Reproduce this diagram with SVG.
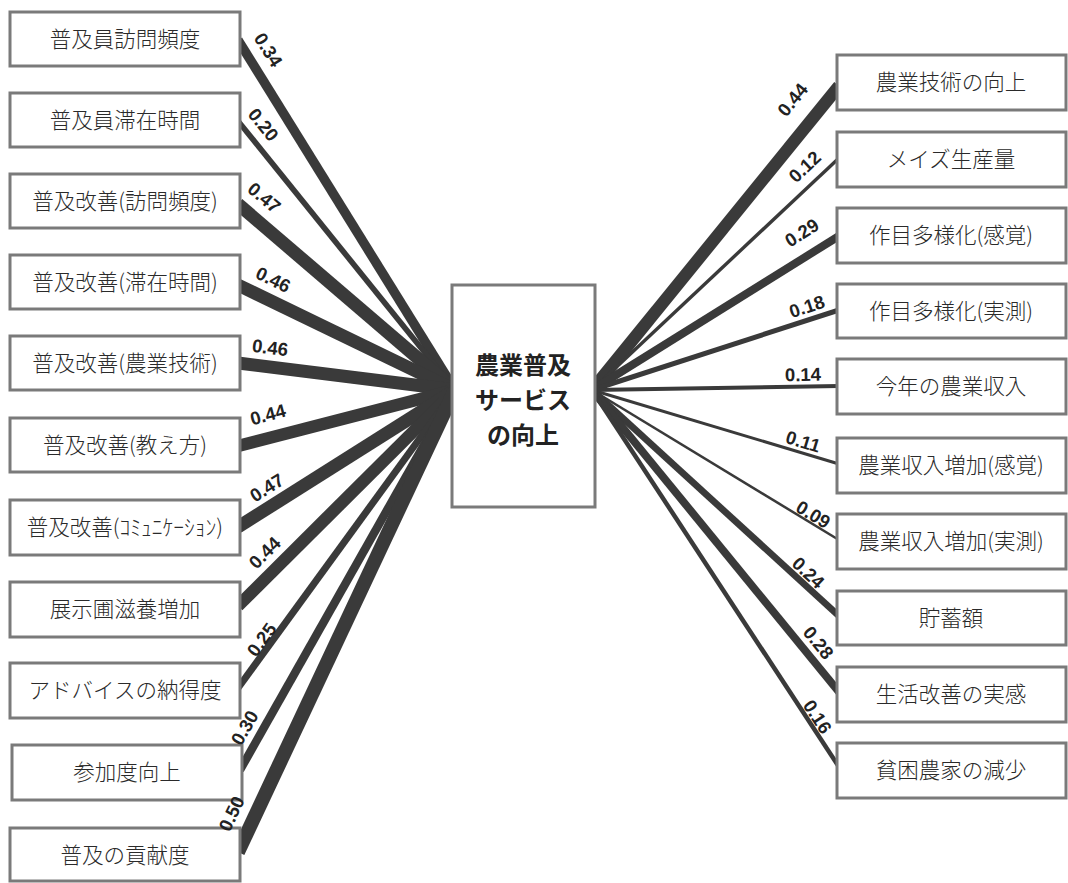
<svg xmlns="http://www.w3.org/2000/svg" width="1068" height="883" viewBox="0 0 1068 883">
<style>
.box{fill:#fff;stroke:#7a7a7a;stroke-width:3}
.t{font-family:"Noto Sans CJK JP","Noto Sans",sans-serif;font-size:21.5px;font-weight:300;fill:#2a2a2a;text-anchor:middle}
.c{font-family:"Noto Sans CJK JP","Noto Sans",sans-serif;font-size:24px;font-weight:bold;fill:#222;text-anchor:middle}
.l{stroke:#3a3a3a;fill:none;stroke-linecap:butt}
.v{font-family:"Liberation Sans",Arial,sans-serif;font-size:18.5px;font-weight:bold;fill:#222;text-anchor:middle}
</style>
<rect width="1068" height="883" fill="#fff"/>
<g id="connectors">
<line class="l" x1="238" y1="40" x2="455" y2="390" stroke-width="9.5"/>
<line class="l" x1="238" y1="121" x2="455" y2="390" stroke-width="5.6"/>
<line class="l" x1="238" y1="204" x2="455" y2="390" stroke-width="13"/>
<line class="l" x1="238" y1="285" x2="455" y2="390" stroke-width="13"/>
<line class="l" x1="238" y1="363" x2="455" y2="390" stroke-width="13"/>
<line class="l" x1="238" y1="446" x2="455" y2="390" stroke-width="12.3"/>
<line class="l" x1="238" y1="527" x2="455" y2="390" stroke-width="13"/>
<line class="l" x1="238" y1="606" x2="455" y2="390" stroke-width="12.3"/>
<line class="l" x1="238" y1="688" x2="455" y2="390" stroke-width="7"/>
<line class="l" x1="240" y1="770" x2="455" y2="390" stroke-width="8.4"/>
<line class="l" x1="238" y1="852" x2="455" y2="390" stroke-width="14"/>
<line class="l" x1="592" y1="390" x2="839" y2="86" stroke-width="12.3"/>
<line class="l" x1="592" y1="390" x2="839" y2="158" stroke-width="3.4"/>
<line class="l" x1="592" y1="390" x2="839" y2="236" stroke-width="8"/>
<line class="l" x1="592" y1="390" x2="839" y2="310" stroke-width="5"/>
<line class="l" x1="592" y1="390" x2="839" y2="386" stroke-width="4"/>
<line class="l" x1="592" y1="390" x2="839" y2="464" stroke-width="3"/>
<line class="l" x1="592" y1="390" x2="839" y2="540" stroke-width="2.5"/>
<line class="l" x1="592" y1="390" x2="839" y2="616" stroke-width="6.7"/>
<line class="l" x1="592" y1="390" x2="839" y2="692" stroke-width="7.8"/>
<line class="l" x1="592" y1="390" x2="839" y2="767" stroke-width="4.5"/>
</g>
<g id="center"><rect class="box" x="452" y="285" width="143" height="222"/>
<text class="c" x="523" y="374">農業普及</text><text class="c" x="523" y="409">サービス</text><text class="c" x="523" y="444">の向上</text></g>
<g id="L1"><rect class="box" x="10" y="12" width="230" height="54"/><text class="t" x="125" y="47">普及員訪問頻度</text></g>
<g id="L2"><rect class="box" x="10" y="93" width="230" height="54"/><text class="t" x="125" y="128">普及員滞在時間</text></g>
<g id="L3"><rect class="box" x="10" y="174" width="230" height="54"/><text class="t" x="125" y="209">普及改善(訪問頻度)</text></g>
<g id="L4"><rect class="box" x="10" y="255" width="230" height="54"/><text class="t" x="125" y="290">普及改善(滞在時間)</text></g>
<g id="L5"><rect class="box" x="10" y="336" width="230" height="54"/><text class="t" x="125" y="371">普及改善(農業技術)</text></g>
<g id="L6"><rect class="box" x="10" y="418" width="230" height="54"/><text class="t" x="125" y="453">普及改善(教え方)</text></g>
<g id="L7"><rect class="box" x="10" y="500" width="230" height="55"/><text class="t" x="125" y="535">普及改善(ｺﾐｭﾆｹｰｼｮﾝ)</text></g>
<g id="L8"><rect class="box" x="10" y="582" width="230" height="55"/><text class="t" x="125" y="617">展示圃滋養増加</text></g>
<g id="L9"><rect class="box" x="10" y="663" width="230" height="55"/><text class="t" x="125" y="698">アドバイスの納得度</text></g>
<g id="L10"><rect class="box" x="12" y="745" width="230" height="55"/><text class="t" x="127" y="780">参加度向上</text></g>
<g id="L11"><rect class="box" x="10" y="828" width="230" height="53"/><text class="t" x="125" y="863">普及の貢献度</text></g>
<g id="R1"><rect class="box" x="837" y="55" width="229" height="55"/><text class="t" x="951" y="90">農業技術の向上</text></g>
<g id="R2"><rect class="box" x="837" y="132" width="229" height="55"/><text class="t" x="951" y="167">メイズ生産量</text></g>
<g id="R3"><rect class="box" x="837" y="208" width="229" height="55"/><text class="t" x="951" y="243">作目多様化(感覚)</text></g>
<g id="R4"><rect class="box" x="837" y="284" width="229" height="54"/><text class="t" x="951" y="319">作目多様化(実測)</text></g>
<g id="R5"><rect class="box" x="837" y="359" width="229" height="55"/><text class="t" x="951" y="394">今年の農業収入</text></g>
<g id="R6"><rect class="box" x="837" y="438" width="229" height="55"/><text class="t" x="951" y="473">農業収入増加(感覚)</text></g>
<g id="R7"><rect class="box" x="837" y="514" width="229" height="55"/><text class="t" x="951" y="549">農業収入増加(実測)</text></g>
<g id="R8"><rect class="box" x="837" y="591" width="229" height="54"/><text class="t" x="951" y="626">貯蓄額</text></g>
<g id="R9"><rect class="box" x="837" y="667" width="229" height="55"/><text class="t" x="951" y="702">生活改善の実感</text></g>
<g id="R10"><rect class="box" x="837" y="743" width="229" height="55"/><text class="t" x="951" y="778">貧困農家の減少</text></g>
<g id="connector-labels">
<text class="v" transform="translate(268,50) rotate(58)" y="6">0.34</text>
<text class="v" transform="translate(263,125) rotate(51)" y="6">0.20</text>
<text class="v" transform="translate(264,198) rotate(40)" y="6">0.47</text>
<text class="v" transform="translate(273,280) rotate(26)" y="6">0.46</text>
<text class="v" transform="translate(270,348) rotate(7)" y="6">0.46</text>
<text class="v" transform="translate(268,415) rotate(-15)" y="6">0.44</text>
<text class="v" transform="translate(267,488) rotate(-32)" y="6">0.47</text>
<text class="v" transform="translate(265,553) rotate(-45)" y="6">0.44</text>
<text class="v" transform="translate(262,640) rotate(-54)" y="6">0.25</text>
<text class="v" transform="translate(245,728) rotate(-60)" y="6">0.30</text>
<text class="v" transform="translate(232,814) rotate(-65)" y="6">0.50</text>
<text class="v" transform="translate(793,100) rotate(-51)" y="6">0.44</text>
<text class="v" transform="translate(805,167) rotate(-43)" y="6">0.12</text>
<text class="v" transform="translate(802,233) rotate(-32)" y="6">0.29</text>
<text class="v" transform="translate(807,307) rotate(-18)" y="6">0.18</text>
<text class="v" transform="translate(803,375) rotate(-1)" y="6">0.14</text>
<text class="v" transform="translate(803,442) rotate(17)" y="6">0.11</text>
<text class="v" transform="translate(813,515) rotate(31)" y="6">0.09</text>
<text class="v" transform="translate(808,573) rotate(43)" y="6">0.24</text>
<text class="v" transform="translate(818,643) rotate(51)" y="6">0.28</text>
<text class="v" transform="translate(817,717) rotate(57)" y="6">0.16</text>
</g>
</svg>
